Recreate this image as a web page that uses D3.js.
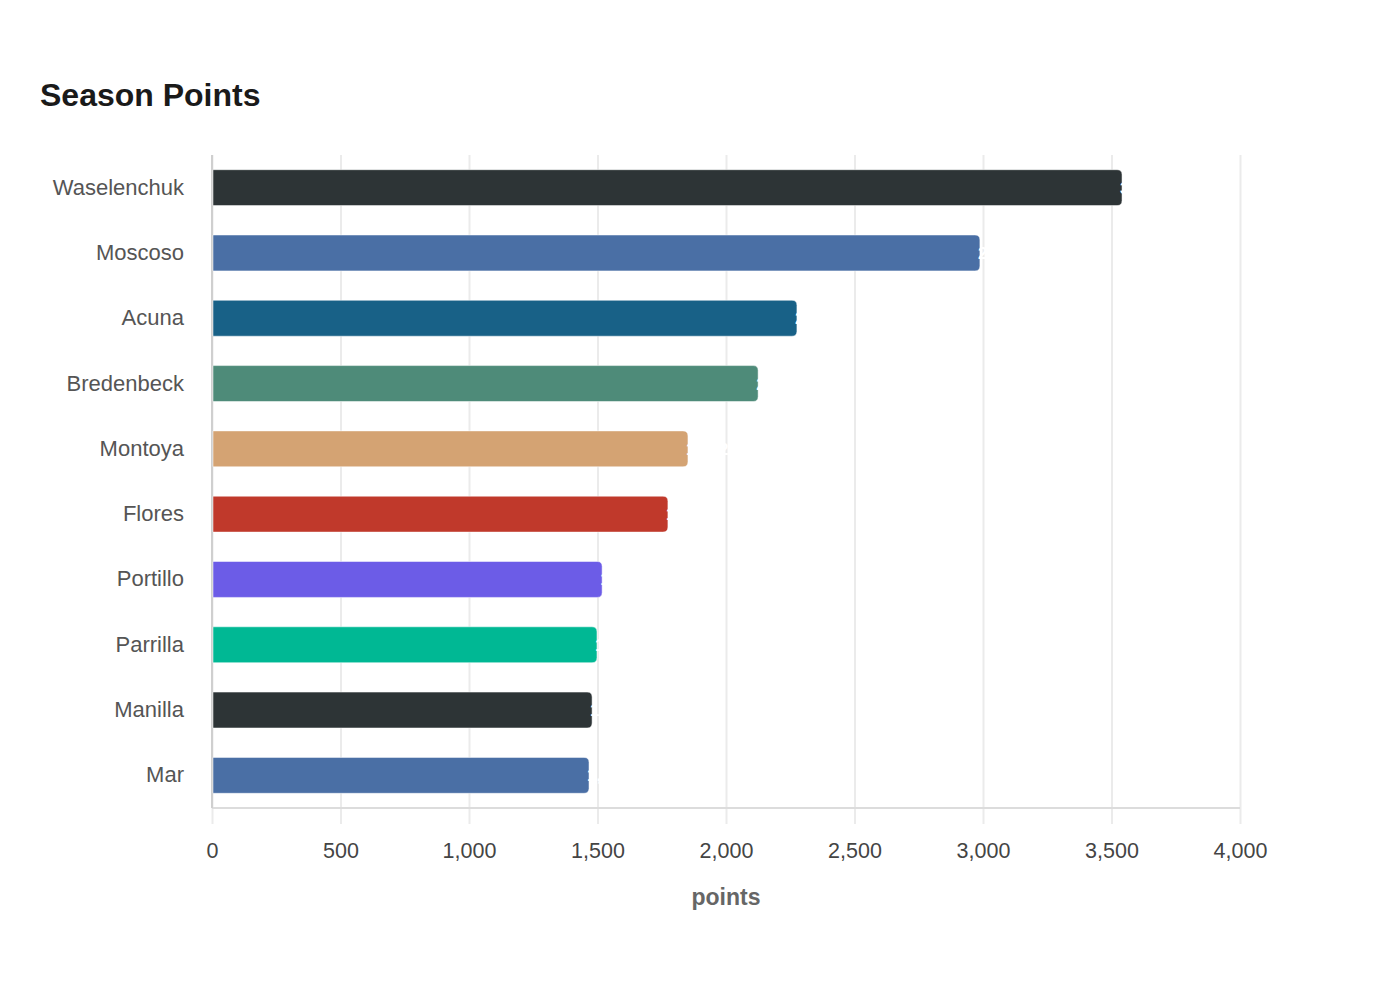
<!DOCTYPE html>
<html>
<head>
<meta charset="utf-8">
<script src="https://cdn.jsdelivr.net/npm/d3@7"></script>
<style>
  body { margin: 0; background: #fff; font-family: "Liberation Sans", Arial, sans-serif; }
</style>
</head>
<body>
<div id="chart"></div>
<script>
var players = ['Waselenchuk', 'Moscoso', 'Acuna', 'Bredenbeck', 'Montoya', 'Flores', 'Portillo', 'Parrilla', 'Manilla', 'Mar'];
var points = [3541, 2988, 2276, 2125, 1852, 1774, 1518, 1498, 1479, 1467];
var xTicks = [0, 500, 1000, 1500, 2000, 2500, 3000, 3500, 4000];
var palette = ['#2d3436', '#4a6fa5', '#186187', '#4e8b79', '#d4a373', '#c0392b', '#6c5ce7', '#00b894'];

var width = 1400, height = 1000;
var margin = { left: 212, right: 160, top: 155, bottom: 192 };
var chartWidth = width - margin.left - margin.right;
var chartHeight = height - margin.top - margin.bottom;

var data = players.map(function (p, i) { return { name: p, value: points[i] }; });

var svg = d3.select('#chart').append('svg')
    .attr('width', width)
    .attr('height', height);

// title
svg.append('text')
    .attr('x', 40)
    .attr('y', 106)
    .attr('font-size', 32)
    .attr('font-weight', 'bold')
    .attr('fill', '#1a1a1a')
    .text('Season Points');

var g = svg.append('g')
    .attr('transform', 'translate(' + margin.left + ',' + margin.top + ')');

var xScale = d3.scaleLinear().domain([0, 4000]).range([0, chartWidth]);
var yScale = d3.scaleBand().domain(players).range([0, chartHeight])
    .paddingInner(0.45).paddingOuter(0.225);
var zScale = d3.scaleOrdinal().domain(players).range(palette);

// gridlines + ticks below axis
var xAxis = d3.axisBottom(xScale)
    .tickValues(xTicks)
    .tickSize(-chartHeight)
    .tickFormat(d3.format(','));

var xg = g.append('g')
    .attr('class', 'axis x')
    .attr('transform', 'translate(0,' + chartHeight + ')')
    .call(xAxis);
xg.select('.domain').remove();
xg.selectAll('.tick line')
    .attr('y1', 16)
    .attr('y2', -chartHeight)
    .attr('stroke', '#ebebeb')
    .attr('stroke-width', 2);
xg.selectAll('.tick text')
    .attr('y', 35)
    .attr('font-size', 21.5)
    .attr('font-family', '"Liberation Sans", Arial, sans-serif')
    .attr('fill', '#444');

// x axis line
g.append('line')
    .attr('x1', 0).attr('x2', chartWidth)
    .attr('y1', chartHeight).attr('y2', chartHeight)
    .attr('stroke', '#dcdcdc')
    .attr('stroke-width', 2);

// y axis line
g.append('line')
    .attr('x1', 0).attr('x2', 0)
    .attr('y1', 0).attr('y2', chartHeight)
    .attr('stroke', '#cfcfcf')
    .attr('stroke-width', 2);

// category labels
var yAxis = d3.axisLeft(yScale).tickSize(0).tickPadding(28);
var yg = g.append('g').attr('class', 'axis y').call(yAxis);
yg.select('.domain').remove();
yg.selectAll('.tick text')
    .attr('font-size', 22)
    .attr('font-family', '"Liberation Sans", Arial, sans-serif')
    .attr('fill', '#555');

// bars with rounded right end
var r = 5;
function barPath(d) {
    var x0 = xScale(0) + 1, x1 = xScale(d.value), y0 = yScale(d.name), h = yScale.bandwidth();
    return 'M' + x0 + ',' + y0 +
        'H' + (x1 - r) +
        'Q' + x1 + ',' + y0 + ' ' + x1 + ',' + (y0 + r) +
        'V' + (y0 + h - r) +
        'Q' + x1 + ',' + (y0 + h) + ' ' + (x1 - r) + ',' + (y0 + h) +
        'H' + x0 + 'Z';
}

g.append('g').selectAll('path')
    .data(data)
    .enter().append('path')
    .attr('d', barPath)
    .attr('fill', function (d) { return zScale(d.name); })
    .attr('stroke', 'rgba(255,255,255,0.5)')
    .attr('stroke-width', 1);

// value labels (white, sitting at the bar ends)
g.append('g').selectAll('text')
    .data(data)
    .enter().append('text')
    .attr('x', function (d) { return xScale(d.value) - 2; })
    .attr('y', function (d) { return yScale(d.name) + yScale.bandwidth() / 2; })
    .attr('dy', '0.35em')
    .attr('font-size', 17)
    .attr('font-weight', 'bold')
    .attr('fill', '#fff')
    .text(function (d) { return d3.format(',')(d.value); });

// x axis title
svg.append('text')
    .attr('x', margin.left + chartWidth / 2)
    .attr('y', 905)
    .attr('text-anchor', 'middle')
    .attr('font-size', 23)
    .attr('font-weight', 'bold')
    .attr('fill', '#666')
    .text('points');
</script>
</body>
</html>
